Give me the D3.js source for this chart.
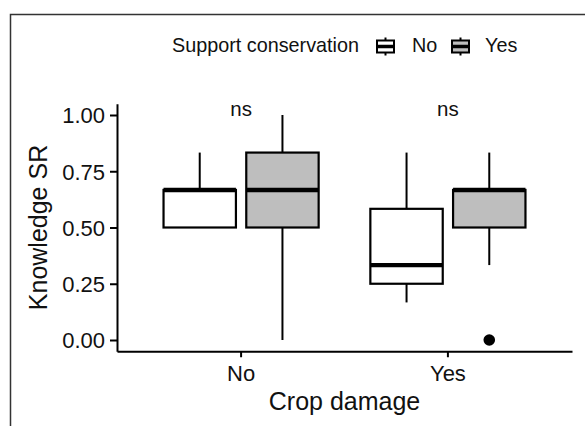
<!DOCTYPE html>
<html>
<head>
<meta charset="utf-8">
<script src="https://cdn.jsdelivr.net/npm/d3@7"></script>
<style>
  body { margin: 0; background: #fff; }
  text { font-family: "Liberation Sans", Arial, sans-serif; fill: #111; }
</style>
</head>
<body>
<div id="chart"></div>
<script>
// categories
var cropDamage = ["No", "Yes"];
var supportLevels = ["No", "Yes"];
var yTicks = [0, 0.25, 0.5, 0.75, 1];

// one entry per box
var boxCrop = ["No", "No", "Yes", "Yes"];
var boxSupport = ["No", "Yes", "No", "Yes"];
var whiskerLow = [0.5, 0, 0.167, 0.333];
var q1 = [0.5, 0.5, 0.25, 0.5];
var median = [0.667, 0.667, 0.333, 0.667];
var q3 = [0.667, 0.833, 0.583, 0.667];
var whiskerHigh = [0.833, 1, 0.833, 0.833];

// outliers
var outlierCrop = ["Yes"];
var outlierSupport = ["Yes"];
var outlierValue = [0];

// significance labels
var sigLabels = ["ns", "ns"];
var sigY = 1.0;

var fillColors = { "No": "#ffffff", "Yes": "#bebebe" };

var W = 585, H = 426;
var svg = d3.select("#chart").append("svg")
    .attr("width", W)
    .attr("height", H);

// outer frame
svg.append("rect")
    .attr("x", 10.5).attr("y", 14.5)
    .attr("width", 620).attr("height", 500)
    .attr("fill", "none")
    .attr("stroke", "#333")
    .attr("stroke-width", 1.5);

var pLeft = 117, pRight = 572, pTop = 103.75, pBottom = 351.25;

var x = d3.scaleBand()
    .domain(cropDamage)
    .range([pLeft, pRight])
    .paddingInner(0)
    .paddingOuter(0.1);
var step = x.step();

// dodge: boxes 0.35 of a step wide, centred at +/-0.2 step
var xSub = d3.scaleBand()
    .domain(supportLevels)
    .range([-0.4 * step, 0.4 * step])
    .paddingInner(0.125)
    .paddingOuter(0.0625);

var y = d3.scaleLinear()
    .domain([-0.05, 1.05])
    .range([pBottom, pTop]);

function cx(crop, sup) { return x(crop) + x.bandwidth() / 2 + xSub(sup) + xSub.bandwidth() / 2; }

// axes
var yAxis = svg.append("g")
    .attr("transform", "translate(" + pLeft + ",0)")
    .call(d3.axisLeft(y).tickValues(yTicks).tickFormat(d3.format(".2f")).tickSize(7).tickSizeOuter(0).tickPadding(5));
var xAxis = svg.append("g")
    .attr("transform", "translate(0," + pBottom + ")")
    .call(d3.axisBottom(x).tickSize(6).tickSizeOuter(0).tickPadding(7));

[yAxis, xAxis].forEach(function(a) {
  a.select(".domain").attr("stroke", "#000").attr("stroke-width", 2);
  a.selectAll(".tick line").attr("stroke", "#000").attr("stroke-width", 2);
  a.selectAll(".tick text").style("font-size", "22px").attr("fill", "#111")
    .style("font-family", "'Liberation Sans', Arial, sans-serif");
});
yAxis.selectAll(".tick text").attr("dy", "0.36em");
xAxis.selectAll(".tick text").attr("dy", "0.74em");

// boxes
var boxes = boxCrop.map(function(c, i) {
  return { crop: c, sup: boxSupport[i], lo: whiskerLow[i], q1: q1[i], med: median[i], q3: q3[i], hi: whiskerHigh[i] };
});
var bw = xSub.bandwidth();
var g = svg.append("g");
boxes.forEach(function(d) {
  var c = cx(d.crop, d.sup);
  g.append("line")
    .attr("x1", c).attr("x2", c)
    .attr("y1", y(d.q3)).attr("y2", y(d.hi))
    .attr("stroke", "#000").attr("stroke-width", 2);
  g.append("line")
    .attr("x1", c).attr("x2", c)
    .attr("y1", y(d.q1)).attr("y2", y(d.lo))
    .attr("stroke", "#000").attr("stroke-width", 2);
  g.append("rect")
    .attr("x", c - bw / 2)
    .attr("y", y(d.q3))
    .attr("width", bw)
    .attr("height", y(d.q1) - y(d.q3))
    .attr("fill", fillColors[d.sup])
    .attr("stroke", "#000")
    .attr("stroke-width", 2.2);
  g.append("line")
    .attr("x1", c - bw / 2).attr("x2", c + bw / 2)
    .attr("y1", y(d.med)).attr("y2", y(d.med))
    .attr("stroke", "#000").attr("stroke-width", 4.4);
});

// outliers
outlierValue.forEach(function(v, i) {
  svg.append("circle")
    .attr("cx", cx(outlierCrop[i], outlierSupport[i]))
    .attr("cy", y(v))
    .attr("r", 5.8)
    .attr("fill", "#000");
});

// significance labels
sigLabels.forEach(function(s, i) {
  svg.append("text")
    .attr("x", x(cropDamage[i]) + x.bandwidth() / 2)
    .attr("y", y(sigY) + 1)
    .attr("text-anchor", "middle")
    .style("font-size", "20.5px")
    .text(s);
});

// axis titles
svg.append("text")
    .attr("x", (pLeft + pRight) / 2)
    .attr("y", 410)
    .attr("text-anchor", "middle")
    .style("font-size", "25px")
    .text("Crop damage");
svg.append("text")
    .attr("transform", "translate(47," + ((pTop + pBottom) / 2) + ")rotate(-90)")
    .attr("text-anchor", "middle")
    .style("font-size", "25px")
    .text("Knowledge SR");

// legend
var legend = svg.append("g");
legend.append("text")
    .attr("x", 172).attr("y", 52)
    .style("font-size", "19.8px")
    .text("Support conservation");
var keyX = [376, 451], labelX = [412, 485];
supportLevels.forEach(function(s, i) {
  var k = legend.append("g").attr("transform", "translate(" + keyX[i] + ",0)");
  k.append("line").attr("x1", 9.5).attr("x2", 9.5).attr("y1", 37.5).attr("y2", 55.5)
    .attr("stroke", "#000").attr("stroke-width", 2);
  k.append("rect").attr("x", 1).attr("y", 40.5).attr("width", 17).attr("height", 12)
    .attr("fill", fillColors[s]).attr("stroke", "#000").attr("stroke-width", 2);
  k.append("line").attr("x1", 1).attr("x2", 18).attr("y1", 46.5).attr("y2", 46.5)
    .attr("stroke", "#000").attr("stroke-width", 3.5);
  legend.append("text")
    .attr("x", labelX[i]).attr("y", 52)
    .style("font-size", "19.8px")
    .text(s);
});
</script>
</body>
</html>
